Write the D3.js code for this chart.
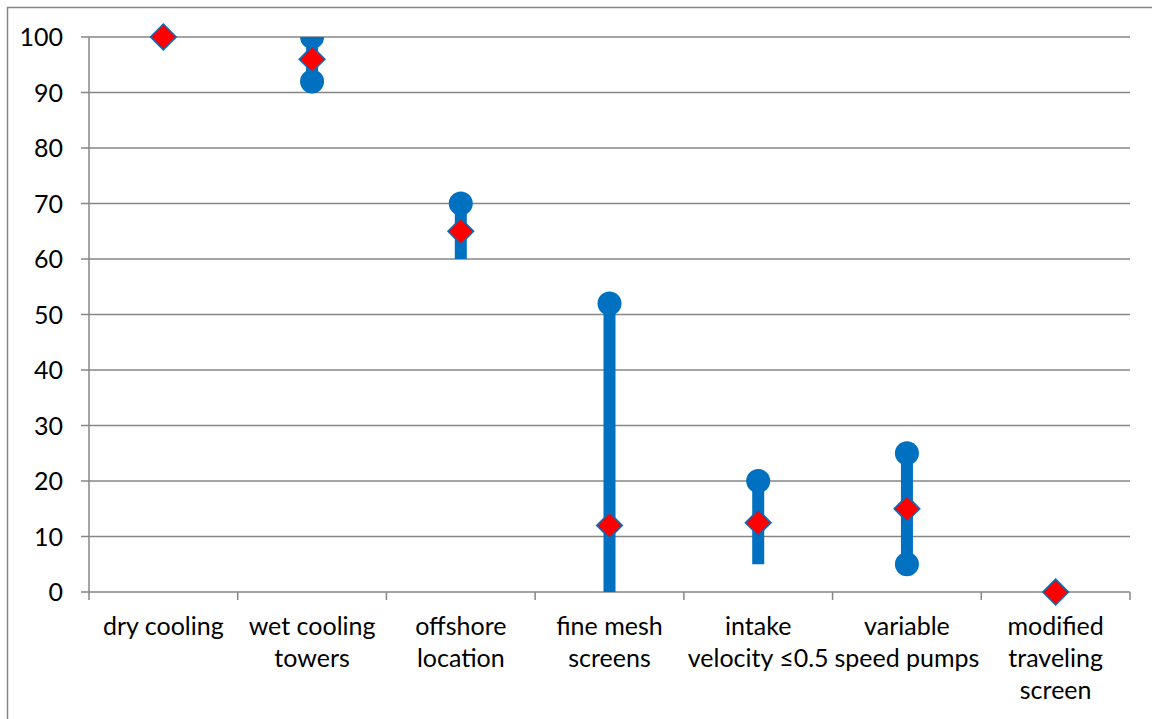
<!DOCTYPE html>
<meta charset="utf-8">
<style>
  body { margin: 0; background: #fff; }
  text { font-family: Lato, "Open Sans", sans-serif; fill: #000; }
</style>
<body></body>
<script src="https://cdn.jsdelivr.net/npm/d3@7"></script>
<script>
  const width = 1152
  const height = 719

  const categories = [
    ["dry cooling"],
    ["wet cooling", "towers"],
    ["offshore", "location"],
    ["fine mesh", "screens"],
    ["intake", "velocity \u22640.5"],
    ["variable", "speed pumps"],
    ["modified", "traveling", "screen"]
  ]
  // range bar ends
  const rangeLow = [100, 92, 60, 0, 5, 5, 0]
  const rangeHigh = [100, 100, 70, 52, 20, 25, 0]
  // round markers (null = not drawn)
  const lowMarker = [null, 92, null, null, null, 5, null]
  const highMarker = [null, 100, 70, 52, 20, 25, null]
  // diamond = mid value
  const midValue = [100, 96, 65, 12, 12.5, 15, 0]
  const yTicks = [0, 10, 20, 30, 40, 50, 60, 70, 80, 90, 100]

  const blue = "#0070c0"
  const gridColor = "#868686"

  const margin = { left: 89, right: 22, top: 37, bottom: 127 }

  const svg = d3.select("body").append("svg")
    .attr("width", width)
    .attr("height", height)

  // outer chart border
  svg.append("rect")
    .attr("x", 7.5).attr("y", 7.5)
    .attr("width", width + 10).attr("height", height + 10)
    .attr("fill", "none")
    .attr("stroke", gridColor)
    .attr("stroke-width", 1.5)

  const x = d3.scaleBand()
    .domain(d3.range(categories.length))
    .range([margin.left, width - margin.right])

  const y = d3.scaleLinear()
    .domain([0, 100])
    .range([height - margin.bottom, margin.top])

  svg.append("clipPath").attr("id", "plot")
    .append("rect")
    .attr("x", margin.left).attr("y", margin.top)
    .attr("width", width - margin.left - margin.right)
    .attr("height", height - margin.top - margin.bottom + 20)

  // gridlines
  svg.append("g")
    .selectAll("line")
    .data(yTicks)
    .join("line")
    .attr("x1", margin.left - 8)
    .attr("x2", width - margin.right)
    .attr("y1", d => y(d))
    .attr("y2", d => y(d))
    .attr("stroke", gridColor)
    .attr("stroke-width", 1.5)

  // y axis line
  svg.append("line")
    .attr("x1", margin.left).attr("x2", margin.left)
    .attr("y1", y(100)).attr("y2", y(0))
    .attr("stroke", gridColor).attr("stroke-width", 1.5)

  // y labels
  svg.append("g")
    .selectAll("text")
    .data(yTicks)
    .join("text")
    .attr("x", margin.left - 26)
    .attr("y", d => y(d))
    .attr("dy", "0.36em")
    .attr("text-anchor", "end")
    .style("font-size", "25px")
    .text(d => d)

  // category ticks
  const bounds = d3.range(categories.length + 1).map(i =>
    i < categories.length ? x(i) : x(i - 1) + x.bandwidth())
  svg.append("g")
    .selectAll("line")
    .data(bounds)
    .join("line")
    .attr("x1", d => d).attr("x2", d => d)
    .attr("y1", y(0)).attr("y2", y(0) + 8)
    .attr("stroke", gridColor).attr("stroke-width", 1.5)

  // category labels
  const labels = svg.append("g")
    .selectAll("text")
    .data(categories)
    .join("text")
    .attr("x", (d, i) => x(i) + x.bandwidth() / 2)
    .attr("y", y(0) + 43)
    .attr("text-anchor", "middle")
    .style("font-size", "25px")
  labels.selectAll("tspan")
    .data(d => d)
    .join("tspan")
    .attr("x", function() { return d3.select(this.parentNode).attr("x") })
    .attr("dy", (d, i) => i === 0 ? 0 : 32)
    .text(d => d)

  const marks = svg.append("g").attr("clip-path", "url(#plot)")
  const cx = i => x(i) + x.bandwidth() / 2

  // range bars
  marks.selectAll("rect.bar")
    .data(d3.range(categories.length).filter(i => rangeHigh[i] > rangeLow[i]))
    .join("rect")
    .attr("class", "bar")
    .attr("x", i => cx(i) - 6)
    .attr("width", 12)
    .attr("y", i => y(rangeHigh[i]))
    .attr("height", i => y(rangeLow[i]) - y(rangeHigh[i]))
    .attr("fill", blue)

  // round markers
  const dots = []
  lowMarker.forEach((v, i) => { if (v !== null) dots.push([i, v]) })
  highMarker.forEach((v, i) => { if (v !== null) dots.push([i, v]) })
  marks.selectAll("circle")
    .data(dots)
    .join("circle")
    .attr("cx", d => cx(d[0]))
    .attr("cy", d => y(d[1]))
    .attr("r", 12)
    .attr("fill", blue)

  // diamonds
  const diamond = d3.symbol().type(d3.symbolSquare).size(330)
  svg.append("g")
    .selectAll("path")
    .data(midValue)
    .join("path")
    .attr("d", diamond)
    .attr("transform", (d, i) => `translate(${cx(i)},${y(d)}) rotate(45)`)
    .attr("fill", "#ff0000")
    .attr("stroke", blue)
    .attr("stroke-width", 1.5)
</script>
